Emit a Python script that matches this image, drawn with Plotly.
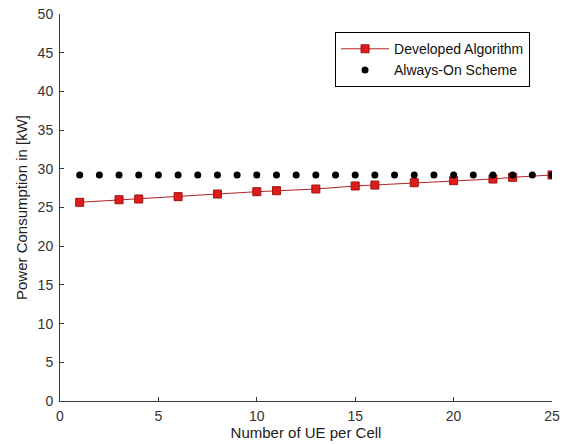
import plotly.graph_objects as go

ue_dev = [1, 3, 4, 6, 8, 10, 11, 13, 15, 16, 18, 20, 22, 23, 25]
power_dev = [25.67, 26.0, 26.1, 26.4, 26.74, 27.04, 27.17, 27.39, 27.78, 27.9, 28.2, 28.46, 28.68, 28.9, 29.2]

ue_on = list(range(1, 26))
power_on = [29.2] * 25

x_ticks = [0, 5, 10, 15, 20, 25]
y_ticks = [0, 5, 10, 15, 20, 25, 30, 35, 40, 45, 50]

FONT = "Liberation Sans, Arial, sans-serif"

fig = go.Figure()
fig.add_trace(go.Scatter(
    x=ue_dev, y=power_dev, mode="lines+markers", name="Developed Algorithm",
    line=dict(color="#b22222", width=1),
    marker=dict(symbol="square", size=8, color="#dd1c1c", line=dict(color="#a01010", width=1)),
))
fig.add_trace(go.Scatter(
    x=ue_on, y=power_on, mode="markers", name="Always-On Scheme",
    marker=dict(symbol="circle", size=7, color="black"),
))

axis_common = dict(
    showgrid=False, zeroline=False, showline=True, linecolor="#3a3a3a", linewidth=1,
    ticks="inside", ticklen=4, tickcolor="#3a3a3a", automargin=False,
    tickfont=dict(family=FONT, size=14, color="#333333"),
    ticklabeloverflow="allow", mirror=False,
)

fig.update_xaxes(range=[0, 25], tickvals=x_ticks, ticklabelstandoff=2,
                 title=dict(text="Number of UE per Cell", standoff=1,
                            font=dict(family=FONT, size=15, color="#222222")),
                 **axis_common)
fig.update_yaxes(range=[0, 50], tickvals=y_ticks, ticklabelstandoff=3,
                 title=dict(text="Power Consumption in [kW]", standoff=6,
                            font=dict(family=FONT, size=15, color="#222222")),
                 **axis_common)

fig.update_layout(
    width=563, height=444,
    margin=dict(l=60, r=11, t=14, b=43),
    paper_bgcolor="white", plot_bgcolor="white",
    showlegend=True,
    legend=dict(x=0.559, y=0.953, xanchor="left", yanchor="top",
                bordercolor="black", borderwidth=1, bgcolor="white",
                itemwidth=48,
                font=dict(family=FONT, size=14, color="#111111"),
                tracegroupgap=0),
)

# remove the page's default 8px body margin so the figure fills the window
fig.write_html("out.html", config={"displayModeBar": False},
               post_script="document.body.style.margin='0';document.body.style.overflow='hidden';")
